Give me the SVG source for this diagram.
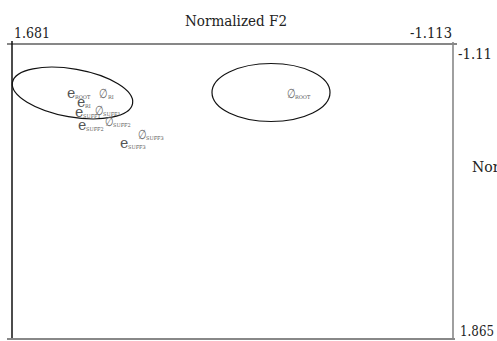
<svg xmlns="http://www.w3.org/2000/svg" width="497" height="341" viewBox="0 0 497 341">
<style>
.ax{font-family:"DejaVu Serif",serif;font-size:14px;fill:#222;}
.lab{font-family:"DejaVu Serif",serif;font-size:14px;fill:#555;}
.nul{font-family:"DejaVu Serif",serif;font-size:13px;fill:#666;}
.sub{font-family:"DejaVu Serif",serif;font-size:5px;fill:#555;}
.ell{fill:none;stroke:#111;stroke-width:1.2;}
</style>
<rect width="497" height="341" fill="#fff"/>
<g id="axes">
<line x1="7" y1="44" x2="457" y2="44" stroke="#111" stroke-width="1.2"/>
<line x1="12" y1="41" x2="12" y2="339" stroke="#111" stroke-width="1.5"/>
<line x1="453" y1="42" x2="453" y2="340" stroke="#888" stroke-width="1.6"/>
<line x1="7" y1="339" x2="455" y2="339" stroke="#888" stroke-width="1.8"/>
<text class="ax" x="185" y="26" textLength="102" lengthAdjust="spacingAndGlyphs">Normalized F2</text>
<text class="ax" x="14" y="37.5" textLength="36" lengthAdjust="spacingAndGlyphs">1.681</text>
<text class="ax" x="410" y="37.5" textLength="42" lengthAdjust="spacingAndGlyphs">-1.113</text>
<text class="ax" x="458" y="59" textLength="34" lengthAdjust="spacingAndGlyphs">-1.11</text>
<text class="ax" x="472" y="172">Nor</text>
<text class="ax" x="460" y="335.5" textLength="34" lengthAdjust="spacingAndGlyphs">1.865</text>
</g>
<g id="ellipses">
<ellipse class="ell" cx="72.5" cy="93" rx="61" ry="24" transform="rotate(10 72.5 93)"/>
<ellipse class="ell" cx="271" cy="92.5" rx="59" ry="29"/>
</g>
<g id="e_root"><text class="lab" x="67" y="98">e</text><text class="sub" x="75" y="99">ROOT</text></g>
<g id="null_ri"><text class="nul" transform="translate(99 98) scale(0.75 1)">∅</text><text class="sub" x="108" y="99">RI</text></g>
<g id="e_ri"><text class="lab" x="77" y="107">e</text><text class="sub" x="85" y="108">RI</text></g>
<g id="e_suff1"><text class="lab" x="75" y="117">e</text><text class="sub" x="83" y="118">SUFF1</text></g>
<g id="null_suff1"><text class="nul" transform="translate(95 115) scale(0.75 1)">∅</text><text class="sub" x="103" y="116">SUFF1</text></g>
<g id="e_suff2"><text class="lab" x="78" y="130">e</text><text class="sub" x="86" y="131">SUFF2</text></g>
<g id="null_suff2"><text class="nul" transform="translate(105 126) scale(0.75 1)">∅</text><text class="sub" x="113" y="127">SUFF2</text></g>
<g id="null_suff3"><text class="nul" transform="translate(138 139) scale(0.75 1)">∅</text><text class="sub" x="146" y="140">SUFF3</text></g>
<g id="e_suff3"><text class="lab" x="120" y="148">e</text><text class="sub" x="128" y="149">SUFF3</text></g>
<g id="null_root"><text class="nul" transform="translate(287 98) scale(0.75 1)">∅</text><text class="sub" x="295" y="99">ROOT</text></g>
</svg>
